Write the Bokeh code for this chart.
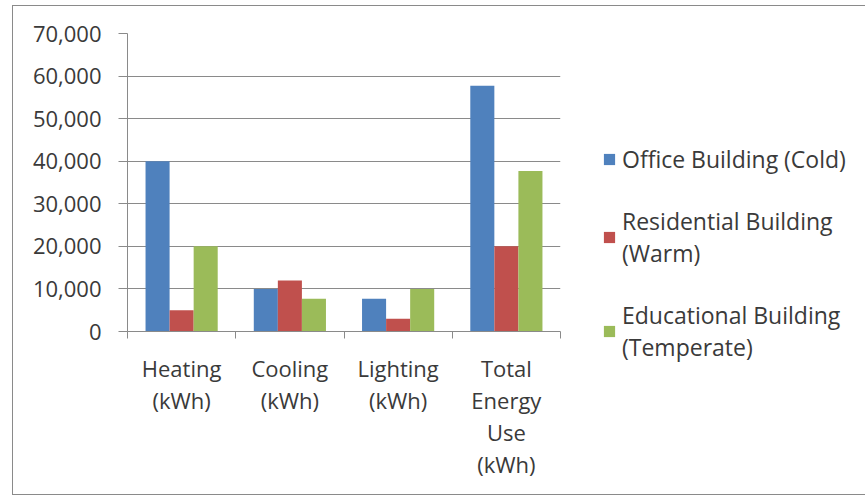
from bokeh.plotting import figure
from bokeh.models import (ColumnDataSource, FixedTicker, LinearAxis, NumeralTickFormatter,
                          Legend, LegendItem, Range1d, Grid)
from bokeh.embed import file_html
from bokeh.resources import INLINE

categories = ["Heating\n(kWh)", "Cooling\n(kWh)", "Lighting\n(kWh)", "Total\nEnergy\nUse\n(kWh)"]
series_names = ["Office Building (Cold)", "Residential Building\n(Warm)", "Educational Building\n(Temperate)"]
office = [40000, 10000, 7700, 57700]
residential = [5000, 12000, 3000, 20000]
educational = [20000, 7700, 10000, 37700]
y_ticks = [0, 10000, 20000, 30000, 40000, 50000, 60000, 70000]

colors = ["#4F81BD", "#C0504D", "#9BBB59"]
FONT = "Open Sans"
FS = "22px"
LH = 1.07
TXT = "#3a3a3a"
GRID = "#8a8a8a"

p = figure(frame_width=433, frame_height=298, output_backend="svg", toolbar_location=None,
           x_range=Range1d(0, len(categories)), y_range=Range1d(0, 70000),
           x_axis_type=None, y_axis_type=None)
p.margin = (5, 10, 5, 12)
p.styles = {"border": "1px solid #8a8a8a"}
p.min_border_left = 114
p.min_border_top = 27
p.min_border_bottom = 163
p.min_border_right = 296
p.outline_line_color = None
p.background_fill_color = "white"
p.border_fill_color = "white"

bw = 1.0 / 4.5
n = len(categories)
centers = [i + 0.5 for i in range(n)]
renderers = []
for k, (vals, col) in enumerate(zip([office, residential, educational], colors)):
    src = ColumnDataSource(dict(x=[c + (k - 1) * bw for c in centers], top=vals))
    r = p.vbar(x="x", top="top", width=bw, bottom=0, source=src,
               fill_color=col, line_color=None)
    renderers.append(r)

# y axis
yax = LinearAxis(ticker=FixedTicker(ticks=y_ticks),
                 formatter=NumeralTickFormatter(format="0,0"))
yax.axis_line_color = GRID
yax.major_tick_line_color = GRID
yax.major_tick_out = 9
yax.major_tick_in = 0
yax.minor_tick_line_color = None
yax.major_label_text_font = FONT
yax.major_label_text_font_size = FS
yax.major_label_text_color = TXT
yax.major_label_standoff = 17
p.add_layout(yax, "left")

g = Grid(dimension=1, ticker=FixedTicker(ticks=y_ticks), grid_line_color=GRID, grid_line_width=1)
p.add_layout(g)

# x axis: labels at category centres, tick marks at category boundaries
xax = LinearAxis(ticker=FixedTicker(ticks=centers, minor_ticks=list(range(n + 1))),
                 major_label_overrides={c: lab for c, lab in zip(centers, categories)})
xax.axis_line_color = GRID
xax.major_tick_line_color = None
xax.major_tick_out = 7
xax.major_tick_in = 0
xax.minor_tick_line_color = GRID
xax.minor_tick_out = 7
xax.minor_tick_in = 0
xax.major_label_text_font = FONT
xax.major_label_text_font_size = FS
xax.major_label_text_color = TXT
xax.major_label_text_line_height = LH
xax.major_label_standoff = 14
p.add_layout(xax, "below")

# legend
lg = Legend(items=[LegendItem(label=nm, renderers=[r]) for nm, r in zip(series_names, renderers)],
            location=(42, -32))
lg.label_text_font = FONT
lg.label_text_font_size = "23px"
lg.label_text_color = TXT
lg.label_text_line_height = 1.13
lg.glyph_width = 14
lg.glyph_height = 14
lg.label_standoff = 6
lg.spacing = 30
lg.padding = 0
lg.margin = 0
lg.border_line_color = None
lg.background_fill_alpha = 0
p.add_layout(lg, "right")

open("out.html", "w").write(file_html(p, INLINE))
